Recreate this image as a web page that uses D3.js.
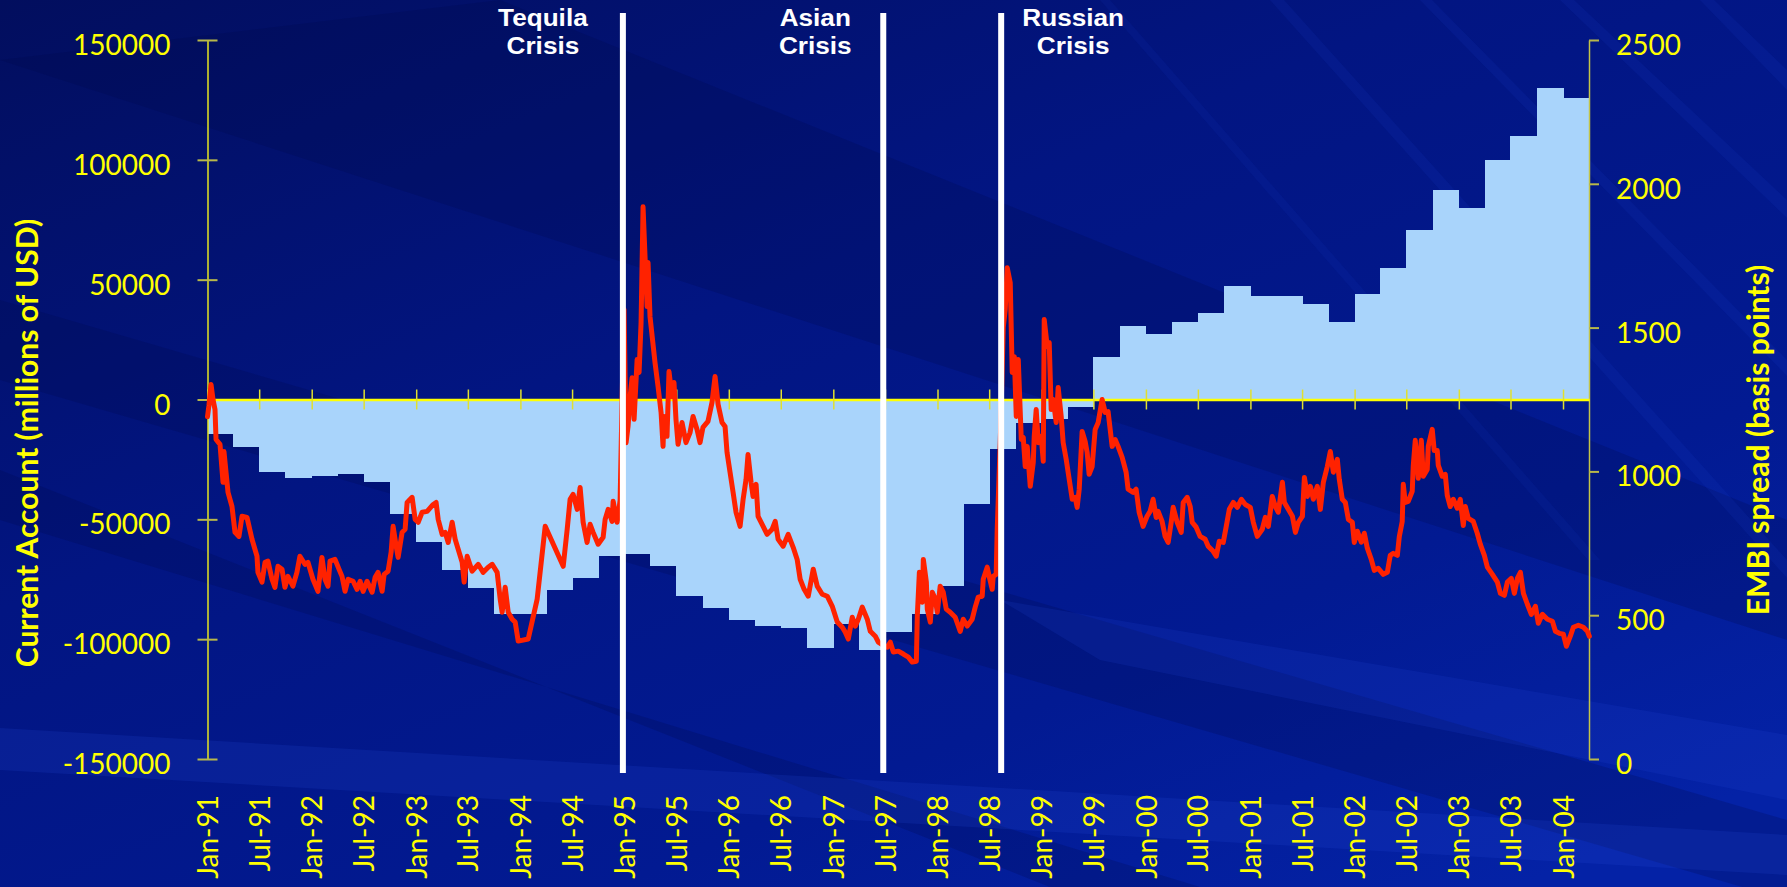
<!DOCTYPE html>
<html>
<head>
<meta charset="utf-8">
<script src="https://cdn.jsdelivr.net/npm/d3@7/dist/d3.min.js"></script>
<style>
  html, body { margin: 0; padding: 0; background: #02168a; }
  svg { display: block; }
</style>
</head>
<body>
<svg id="chart" width="1787" height="887"></svg>
<script>
// ---- data -----------------------------------------------------------------

// Quarterly current account balance (millions of USD), one value per quarter start
const quarterStarts = [
  "1991-01","1991-04","1991-07","1991-10",
  "1992-01","1992-04","1992-07","1992-10",
  "1993-01","1993-04","1993-07","1993-10",
  "1994-01","1994-04","1994-07","1994-10",
  "1995-01","1995-04","1995-07","1995-10",
  "1996-01","1996-04","1996-07","1996-10",
  "1997-01","1997-04","1997-07","1997-10",
  "1998-01","1998-04","1998-07","1998-10",
  "1999-01","1999-04","1999-07","1999-10",
  "2000-01","2000-04","2000-07","2000-10",
  "2001-01","2001-04","2001-07","2001-10",
  "2002-01","2002-04","2002-07","2002-10",
  "2003-01","2003-04","2003-07","2003-10",
  "2004-01"
];
const currentAccount = [
  -14200, -20000, -30400, -32900,
  -32100, -31250, -34600, -47900,
  -59500, -71200, -78700, -89600,
  -89600, -79600, -74600, -65400,
  -64600, -69600, -82100, -87100,
  -92100, -94600, -95400, -103750,
  -93750, -104600, -97000, -89600,
  -77800, -43750, -20800, -10000,
  -8000, -3000, 17600, 30800,
  27500, 32500, 36000, 47500,
  43300, 43300, 40000, 32500,
  44000, 54900, 70700, 87400,
  79900, 100000, 110000, 130000,
  126000
];

// EMBI spread (basis points): [decimal year, spread]
const embiSpread = [
  [1991.000,1190],[1991.014,1230],[1991.034,1302],[1991.053,1250],[1991.072,1215],[1991.082,1111],
  [1991.120,1094],[1991.149,962],[1991.158,1069],[1991.197,927],[1991.235,878],[1991.264,788],
  [1991.302,774],[1991.331,844],[1991.379,840],[1991.427,764],[1991.475,705],[1991.484,649],
  [1991.523,615],[1991.552,684],[1991.580,688],[1991.619,625],[1991.647,597],[1991.676,670],
  [1991.715,660],[1991.743,597],[1991.772,635],[1991.820,601],[1991.858,649],[1991.887,705],
  [1991.935,677],[1991.964,684],[1992.012,625],[1992.060,583],[1992.098,701],[1992.127,625],
  [1992.156,601],[1992.175,688],[1992.223,694],[1992.261,660],[1992.290,635],[1992.319,583],
  [1992.348,625],[1992.396,618],[1992.434,590],[1992.463,618],[1992.492,583],[1992.530,618],
  [1992.578,580],[1992.607,632],[1992.635,649],[1992.674,583],[1992.693,642],[1992.731,653],
  [1992.760,719],[1992.779,809],[1992.808,740],[1992.827,701],[1992.865,788],[1992.894,799],
  [1992.913,892],[1992.961,910],[1992.990,833],[1993.019,823],[1993.057,858],[1993.105,861],
  [1993.163,885],[1993.191,892],[1993.211,833],[1993.249,781],[1993.278,788],[1993.307,753],
  [1993.345,823],[1993.374,764],[1993.403,729],[1993.441,684],[1993.460,615],[1993.489,705],
  [1993.537,653],[1993.595,677],[1993.643,649],[1993.691,667],[1993.729,677],[1993.777,649],
  [1993.806,556],[1993.825,510],[1993.854,597],[1993.883,510],[1993.921,486],[1993.950,476],
  [1993.979,410],[1994.075,417],[1994.161,556],[1994.238,809],[1994.411,670],[1994.449,799],
  [1994.477,903],[1994.506,920],[1994.545,868],[1994.573,944],[1994.602,823],[1994.640,753],
  [1994.669,816],[1994.698,788],[1994.746,747],[1994.794,771],[1994.813,833],[1994.842,868],
  [1994.880,826],[1994.890,896],[1994.928,823],[1994.938,844],[1994.957,900],[1994.976,1250],
  [1994.995,1563],[1995.014,1100],[1995.033,1156],[1995.053,1260],[1995.072,1326],[1995.091,1181],
  [1995.120,1389],[1995.139,1344],[1995.158,1517],[1995.168,1726],[1995.177,1920],[1995.196,1747],
  [1995.216,1573],[1995.225,1726],[1995.244,1538],[1995.273,1441],[1995.292,1378],[1995.321,1295],
  [1995.350,1205],[1995.369,1087],[1995.378,1191],[1995.407,1122],[1995.426,1347],[1995.455,1260],
  [1995.474,1309],[1995.493,1181],[1995.513,1094],[1995.551,1170],[1995.589,1100],[1995.628,1135],
  [1995.657,1191],[1995.695,1146],[1995.724,1100],[1995.752,1153],[1995.800,1174],[1995.839,1240],
  [1995.868,1330],[1995.897,1233],[1995.935,1170],[1995.964,1156],[1995.983,1066],[1996.012,997],
  [1996.041,927],[1996.069,858],[1996.108,809],[1996.137,903],[1996.165,972],[1996.184,1059],
  [1996.213,962],[1996.232,913],[1996.261,955],[1996.280,844],[1996.319,816],[1996.367,781],
  [1996.415,799],[1996.444,826],[1996.472,764],[1996.520,740],[1996.568,781],[1996.616,736],
  [1996.654,694],[1996.683,625],[1996.721,590],[1996.760,566],[1996.808,660],[1996.846,601],
  [1996.894,573],[1996.942,566],[1996.990,531],[1997.038,476],[1997.086,458],[1997.115,441],
  [1997.144,417],[1997.182,493],[1997.211,462],[1997.240,486],[1997.278,528],[1997.326,486],
  [1997.355,444],[1997.403,427],[1997.432,406],[1997.480,395],[1997.518,389],[1997.547,406],
  [1997.576,372],[1997.624,375],[1997.672,365],[1997.720,354],[1997.758,337],[1997.797,340],
  [1997.806,497],[1997.826,649],[1997.854,545],[1997.864,694],[1997.893,615],[1997.902,521],
  [1997.931,476],[1997.950,580],[1997.979,556],[1997.998,510],[1998.026,601],[1998.055,580],
  [1998.084,521],[1998.122,510],[1998.170,493],[1998.218,444],[1998.247,486],[1998.285,462],
  [1998.333,486],[1998.362,528],[1998.391,563],[1998.429,566],[1998.439,625],[1998.477,667],
  [1998.496,635],[1998.525,590],[1998.535,635],[1998.563,642],[1998.573,799],[1998.602,1100],
  [1998.631,1500],[1998.650,1563],[1998.669,1708],[1998.698,1656],[1998.717,1344],[1998.737,1399],
  [1998.756,1191],[1998.775,1389],[1998.804,1111],[1998.823,1118],[1998.842,1017],[1998.861,1087],
  [1998.890,948],[1998.919,1031],[1998.928,1122],[1998.947,1215],[1998.967,1100],[1998.995,1122],
  [1999.015,1035],[1999.024,1528],[1999.053,1434],[1999.072,1448],[1999.091,1215],[1999.110,1250],
  [1999.139,1170],[1999.158,1292],[1999.187,1191],[1999.206,1100],[1999.235,1042],[1999.264,972],
  [1999.293,903],[1999.321,910],[1999.340,875],[1999.360,938],[1999.388,1139],[1999.417,1104],
  [1999.436,1066],[1999.455,990],[1999.484,1017],[1999.513,1146],[1999.542,1170],[1999.580,1250],
  [1999.609,1205],[1999.637,1208],[1999.676,1087],[1999.705,1111],[1999.733,1087],[1999.772,1049],
  [1999.810,997],[1999.829,938],[1999.877,927],[1999.906,938],[1999.935,858],[1999.973,809],
  [2000.011,844],[2000.040,861],[2000.069,903],[2000.098,840],[2000.117,861],[2000.155,826],
  [2000.184,774],[2000.213,753],[2000.242,823],[2000.261,875],[2000.299,823],[2000.338,788],
  [2000.357,892],[2000.395,910],[2000.424,878],[2000.443,823],[2000.481,806],[2000.519,774],
  [2000.567,764],[2000.596,740],[2000.644,722],[2000.673,705],[2000.702,757],[2000.740,753],
  [2000.769,809],[2000.798,868],[2000.836,892],[2000.875,875],[2000.913,903],[2000.951,885],
  [2000.999,875],[2001.028,823],[2001.066,774],[2001.114,799],[2001.143,840],[2001.172,809],
  [2001.210,913],[2001.239,878],[2001.268,858],[2001.307,962],[2001.326,892],[2001.364,868],
  [2001.403,844],[2001.432,788],[2001.460,823],[2001.499,844],[2001.518,979],[2001.547,913],
  [2001.575,948],[2001.604,903],[2001.642,948],[2001.671,868],[2001.700,962],[2001.738,1017],
  [2001.767,1069],[2001.796,997],[2001.834,1042],[2001.853,972],[2001.882,903],[2001.911,892],
  [2001.940,833],[2001.978,823],[2001.997,753],[2002.026,792],[2002.064,754],[2002.093,785],
  [2002.122,733],[2002.160,694],[2002.189,656],[2002.227,663],[2002.275,642],[2002.314,649],
  [2002.342,708],[2002.371,715],[2002.410,708],[2002.429,774],[2002.457,826],[2002.467,955],
  [2002.486,892],[2002.515,896],[2002.553,931],[2002.563,1021],[2002.582,1108],[2002.611,976],
  [2002.640,1108],[2002.659,983],[2002.697,1007],[2002.707,1087],[2002.745,1146],[2002.764,1073],
  [2002.793,1073],[2002.803,1021],[2002.841,983],[2002.870,990],[2002.889,917],[2002.918,878],
  [2002.947,903],[2002.985,872],[2003.014,903],[2003.043,812],[2003.062,878],[2003.091,837],
  [2003.139,826],[2003.177,785],[2003.206,747],[2003.245,708],[2003.274,667],[2003.322,642],
  [2003.370,615],[2003.399,576],[2003.437,569],[2003.466,615],[2003.504,628],[2003.533,576],
  [2003.562,628],[2003.591,649],[2003.620,576],[2003.658,538],[2003.696,503],[2003.735,531],
  [2003.763,472],[2003.802,503],[2003.850,486],[2003.898,479],[2003.927,444],[2003.965,437],
  [2004.003,434],[2004.032,392],[2004.070,427],[2004.099,458],[2004.147,465],[2004.195,458],
  [2004.233,444],[2004.252,427]
];

// Crisis markers
const crises = [
  { lines: ["Tequila", "Crisis"], date: "1994-12-26" },
  { lines: ["Asian", "Crisis"],   date: "1997-06-25" },
  { lines: ["Russian", "Crisis"], date: "1998-08-12" }
];

// Axis ticks and labels
const dateTickLabels = [
  "Jan-91","Jul-91","Jan-92","Jul-92","Jan-93","Jul-93","Jan-94","Jul-94",
  "Jan-95","Jul-95","Jan-96","Jul-96","Jan-97","Jul-97","Jan-98","Jul-98",
  "Jan-99","Jul-99","Jan-00","Jul-00","Jan-01","Jul-01","Jan-02","Jul-02",
  "Jan-03","Jul-03","Jan-04"
];
const leftTicks = [-150000, -100000, -50000, 0, 50000, 100000, 150000];
const rightTicks = [0, 500, 1000, 1500, 2000, 2500];
const leftTitle = "Current Account (millions of USD)";
const rightTitle = "EMBI spread (basis points)";

// ---- layout & style -------------------------------------------------------
const W = 1787, H = 887;
const plot = { left: 207.5, right: 1589, top: 40, bottom: 759 };
const YELLOW = "#ffff00";
const BAR = "#a9d4fb";
const RED = "#ff2200";
const TICK_FONT = "Lato, 'Open Sans', sans-serif";

const svg = d3.select("#chart");

// ---- background -----------------------------------------------------------
const defs = svg.append("defs");
const bg = defs.append("linearGradient").attr("id", "bg")
  .attr("x1", "0").attr("y1", "0").attr("x2", "0.85").attr("y2", "1");
bg.append("stop").attr("offset", "0%").attr("stop-color", "#020e5e");
bg.append("stop").attr("offset", "40%").attr("stop-color", "#021582");
bg.append("stop").attr("offset", "75%").attr("stop-color", "#021a92");
bg.append("stop").attr("offset", "100%").attr("stop-color", "#0422a6");
svg.append("rect").attr("width", W).attr("height", H).attr("fill", "url(#bg)");

const bgBands = svg.append("g");
// darker diagonal bands
[
  [[0,60],[500,0],[1787,520],[1787,640]],
  [[0,300],[0,380],[1787,900],[1787,820]],
  [[0,470],[0,520],[1200,887],[1050,887]]
].forEach(p => bgBands.append("polygon").attr("points", p.join(" "))
  .attr("fill", "#000a4a").attr("opacity", 0.22));
// lighter diagonal streaks
[
  [[0,728],[1787,835],[1787,875],[0,770], 0.16],
  [[1000,600],[1787,735],[1787,800],[1100,660], 0.14],
  [[1270,0],[1284,0],[1787,560],[1787,578], 0.10],
  [[1420,0],[1432,0],[1787,360],[1787,376], 0.10],
  [[1560,0],[1574,0],[1787,200],[1787,218], 0.10],
  [[1100,0],[1110,0],[1600,560],[1588,560], 0.08],
  [[1700,0],[1714,0],[1787,70],[1787,90], 0.10]
].forEach(p => bgBands.append("polygon").attr("points", p.slice(0, 4).join(" "))
  .attr("fill", "#2a4fe0").attr("opacity", p[4]));

// ---- scales ---------------------------------------------------------------
const parseMonth = d3.timeParse("%Y-%m");
const parseDay = d3.timeParse("%Y-%m-%d");
const parseTick = d3.timeParse("%b-%y");
function fromDecimalYear(v) {
  const y = Math.floor(v);
  const a = new Date(y, 0, 1), b = new Date(y + 1, 0, 1);
  return new Date(+a + (v - y) * (b - a));
}

const x = d3.scaleTime()
  .domain([new Date(1991, 0, 1), new Date(2004, 3, 1)])
  .range([plot.left, plot.right]);
const yL = d3.scaleLinear().domain([-150000, 150000]).range([plot.bottom, plot.top]);
const yR = d3.scaleLinear().domain([0, 2500]).range([plot.bottom, plot.top]);

// ---- current account bars --------------------------------------------------
const bars = quarterStarts.map((q, i) => ({
  start: parseMonth(q),
  end: i + 1 < quarterStarts.length ? parseMonth(quarterStarts[i + 1]) : x.domain()[1],
  value: currentAccount[i]
}));
svg.append("g").selectAll("rect").data(bars).join("rect")
  .attr("x", d => x(d.start))
  .attr("width", d => x(d.end) - x(d.start) + 0.5)
  .attr("y", d => Math.min(yL(d.value), yL(0)))
  .attr("height", d => Math.abs(yL(d.value) - yL(0)))
  .attr("fill", BAR)
  .attr("shape-rendering", "crispEdges");

// ---- axes -----------------------------------------------------------------
const plainNumber = d => String(d);

// left axis
const gL = svg.append("g").attr("transform", `translate(${plot.left},0)`)
  .call(d3.axisLeft(yL).tickValues(leftTicks).tickSize(10).tickSizeOuter(0)
    .tickPadding(27).tickFormat(plainNumber));
gL.select(".domain").attr("stroke", "#e6e620").attr("stroke-width", 1.5);
gL.selectAll(".tick line").attr("x1", -10).attr("x2", 10)
  .attr("stroke", "#b8b84a").attr("stroke-width", 2);
gL.selectAll(".tick text").attr("fill", YELLOW).attr("font-family", TICK_FONT)
  .attr("font-size", 28).attr("dy", "0.52em");

// right axis
const gR = svg.append("g").attr("transform", `translate(${plot.right},0)`)
  .call(d3.axisRight(yR).tickValues(rightTicks).tickSize(10).tickSizeOuter(0)
    .tickPadding(17).tickFormat(plainNumber));
gR.select(".domain").attr("stroke", "#c4c448").attr("stroke-width", 1.5);
gR.selectAll(".tick line").attr("stroke", "#b8b84a").attr("stroke-width", 2);
gR.selectAll(".tick text").attr("fill", YELLOW).attr("font-family", TICK_FONT)
  .attr("font-size", 28).attr("dy", "0.52em");

// date axis along the zero line, labels rotated below the plot
const zeroY = yL(0);
const labelTop = 795;
const gX = svg.append("g").attr("transform", `translate(0,${zeroY})`)
  .call(d3.axisBottom(x).tickValues(dateTickLabels.map(parseTick))
    .tickSize(10).tickSizeOuter(0).tickFormat(d3.timeFormat("%b-%y")));
gX.select(".domain").attr("stroke", YELLOW).attr("stroke-width", 2.5);
gX.selectAll(".tick line").attr("y1", -10).attr("y2", 10)
  .attr("stroke", "#e0e030").attr("stroke-width", 1.5);
gX.selectAll(".tick text")
  .attr("fill", YELLOW).attr("font-family", TICK_FONT).attr("font-size", 28)
  .attr("text-anchor", "end")
  .attr("x", 0).attr("y", 0).attr("dy", "0.36em")
  .attr("transform", `translate(0,${labelTop - zeroY}) rotate(-90)`);
svg.selectAll(".domain").attr("fill", "none");

// ---- EMBI spread line --------------------------------------------------------
const line = d3.line()
  .x(d => x(fromDecimalYear(d[0])))
  .y(d => yR(d[1]));
svg.append("path").datum(embiSpread)
  .attr("d", line)
  .attr("fill", "none")
  .attr("stroke", RED)
  .attr("stroke-width", 5)
  .attr("stroke-linejoin", "round")
  .attr("stroke-linecap", "round");

// ---- crisis markers -----------------------------------------------------------
const labelOffset = { "Tequila": -80, "Asian": -68, "Russian": 72 };
const lineBaselines = [26, 54];
const gC = svg.append("g");
crises.forEach(c => {
  const cx = x(parseDay(c.date));
  gC.append("line")
    .attr("x1", cx).attr("x2", cx).attr("y1", 13).attr("y2", 773)
    .attr("stroke", "#ffffff").attr("stroke-width", 6);
  const lx = cx + labelOffset[c.lines[0]];
  c.lines.forEach((s, i) => gC.append("text")
    .attr("transform", `translate(${lx},${lineBaselines[i]}) scale(1.09,1)`)
    .attr("text-anchor", "middle")
    .attr("font-family", "'Liberation Sans', Arial, sans-serif")
    .attr("font-weight", "bold").attr("font-size", 24)
    .attr("fill", "#ffffff")
    .text(s));
});

// ---- axis titles --------------------------------------------------------------
svg.append("text")
  .attr("transform", `translate(27,443) rotate(-90)`)
  .attr("text-anchor", "middle").attr("dy", "0.35em")
  .attr("font-family", TICK_FONT).attr("font-weight", "bold").attr("font-size", 30)
  .attr("fill", YELLOW).text(leftTitle);
svg.append("text")
  .attr("transform", `translate(1758,440) rotate(-90)`)
  .attr("text-anchor", "middle").attr("dy", "0.35em")
  .attr("font-family", TICK_FONT).attr("font-weight", "bold").attr("font-size", 30)
  .attr("fill", YELLOW).text(rightTitle);
</script>
</body>
</html>
